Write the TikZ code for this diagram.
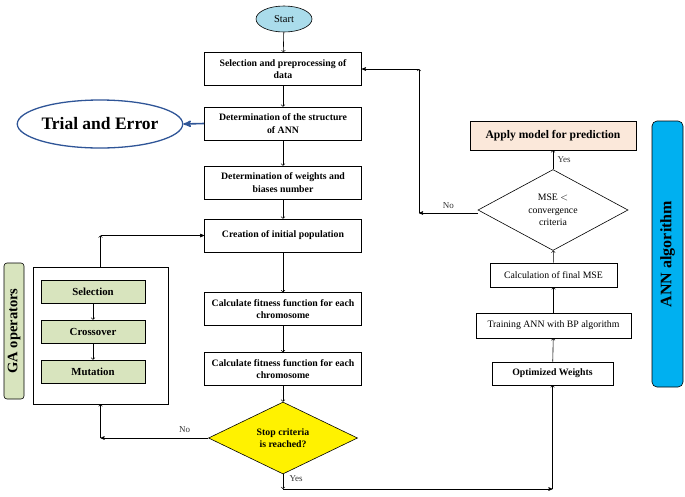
\documentclass[tikz,border=0pt]{standalone}
\usepackage{fontspec}
\setmainfont{Liberation Serif}
\usetikzlibrary{arrows,positioning,shapes.geometric,calc}

\definecolor{startblue}{RGB}{170,220,235}
\definecolor{opgreen}{RGB}{216,228,190}
\definecolor{applypeach}{RGB}{251,232,218}
\definecolor{annblue}{RGB}{0,176,240}
\definecolor{trialblue}{RGB}{47,85,151}

\tikzset{
  flowbox/.style={draw, fill=white, align=center, minimum width=157pt, minimum height=33pt, inner sep=1pt, font=\fontsize{9.8}{12.5}\selectfont\bfseries},
  annbox/.style={draw, fill=white, align=center, inner sep=1pt, font=\fontsize{9.8}{12}\selectfont},
  opbox/.style={draw, fill=opgreen, minimum width=104pt, minimum height=23pt, inner sep=1pt, font=\fontsize{10.8}{12}\selectfont\bfseries},
  decision/.style={diamond, draw, align=center, inner sep=0pt, font=\fontsize{9.8}{12.5}\selectfont},
  lbl/.style={font=\fontsize{9}{10}\selectfont, text=black!80}
}

\begin{document}
\begin{tikzpicture}[->, >=to, x=1pt, y=-1pt, line width=0.6pt]
\useasboundingbox (0,0) rectangle (685,496);

% main column
\node[ellipse, draw, fill=startblue, minimum width=56pt, minimum height=26pt, inner sep=0pt, font=\fontsize{10.5}{12}\selectfont] (start) at (284,19) {Start};
\node[flowbox] (sel) at (283,69) {Selection and preprocessing of\\data};
\node[flowbox] (struct) at (283,123.5) {Determination of the structure\\of ANN};
\node[flowbox] (weights) at (283,182.5) {Determination of weights and\\biases number};
\node[flowbox] (pop) at (283,235.5) {Creation of initial population};
\node[flowbox] (fit1) at (283,309) {Calculate fitness function for each\\chromosome};
\node[flowbox] (fit2) at (283,369) {Calculate fitness function for each\\chromosome};
\node[decision, fill=yellow, minimum width=149pt, minimum height=52pt, font=\fontsize{9.8}{12.5}\selectfont\bfseries] (stop) at (283,438) {Stop criteria\\is reached?};

\node[ellipse, draw=trialblue, line width=1.3pt, minimum width=144pt, minimum height=48pt, inner sep=0pt, font=\fontsize{17.5}{20}\selectfont\bfseries] (trial) at (100,124) {Trial and Error};

% GA operators
\node[draw, fill=white, minimum width=135pt, minimum height=137pt] (ga) at (100.5,335.5) {};
\node[opbox] (selection) at (93,291.5) {Selection};
\node[opbox] (crossover) at (93,331.5) {Crossover};
\node[opbox] (mutation) at (93,371.5) {Mutation};
\node[draw, fill=opgreen, rounded corners=3pt, rotate=90, minimum width=136pt, minimum height=20pt, inner sep=0pt, font=\fontsize{14.5}{15}\selectfont\bfseries] (galabel) at (14,331) {GA operators};

% ANN part
\node[draw, fill=applypeach, minimum width=166pt, minimum height=29pt, inner sep=1pt, font=\fontsize{11.6}{13}\selectfont\bfseries] (apply) at (553,135.5) {Apply model for prediction};
\node[decision, fill=white, minimum width=150pt, minimum height=55pt] (mse) at (553,210) {MSE $<$\\convergence\\criteria};
\node[annbox, minimum width=127pt, minimum height=24pt] (final) at (553.5,275) {Calculation of final MSE};
\node[annbox, minimum width=155pt, minimum height=25pt] (train) at (553.5,325.5) {Training ANN with BP algorithm};
\node[annbox, minimum width=121pt, minimum height=23pt, font=\fontsize{9.8}{12}\selectfont\bfseries] (opt) at (552.5,373.5) {Optimized Weights};
\node[draw, fill=annblue, rounded corners=5pt, rotate=90, minimum width=266pt, minimum height=31pt, inner sep=0pt, font=\fontsize{16}{18}\selectfont\bfseries] (annlabel) at (667.5,254) {ANN algorithm};

\coordinate (gaIn) at (ga.south |- stop.west);
\coordinate (gaOut) at (ga.north |- pop.west);
\coordinate (yesDown) at (stop.south |- 0,489);
\coordinate (yesRight) at (opt.south |- 0,489);
\coordinate (noCorner) at (419,213);
\coordinate (noTop) at (noCorner |- sel.east);

% connectors
\draw (start) -- (sel);
\draw (sel) -- (struct);
\draw (struct) -- (weights);
\draw (weights) -- (pop);
\draw (pop) -- (fit1);
\draw (fit1) -- (fit2);
\draw (fit2) -- (stop);
\draw[-stealth', trialblue, line width=1.6pt] (struct.west) -- (trial.east);
\draw (selection) -- (crossover);
\draw (crossover) -- (mutation);

\draw[>=stealth'] (stop.west) -- node[lbl, pos=0.22, above=2pt] {No} (gaIn);
\draw (gaIn) -- (ga.south);
\draw (ga.north) -- (gaOut);
\draw[>=stealth'] (gaOut) -- (pop.west);

\draw (stop.south) -- node[lbl, right=3pt, pos=0.3] {Yes} (yesDown);
\draw[>=stealth'] (yesDown) -- (yesRight);
\draw (yesRight) -- (opt.south);

\draw (opt) -- (train);
\draw (train) -- (final);
\draw (final) -- (mse);
\draw (mse.north) -- node[lbl, right=1pt] {Yes} (apply.south);
\draw[>=stealth'] (mse.west |- noCorner) -- node[lbl, above=1pt] {No} (noCorner);
\draw (noCorner) -- (noTop);
\draw[>=stealth'] (noTop) -- (sel.east);
\end{tikzpicture}
\end{document}
